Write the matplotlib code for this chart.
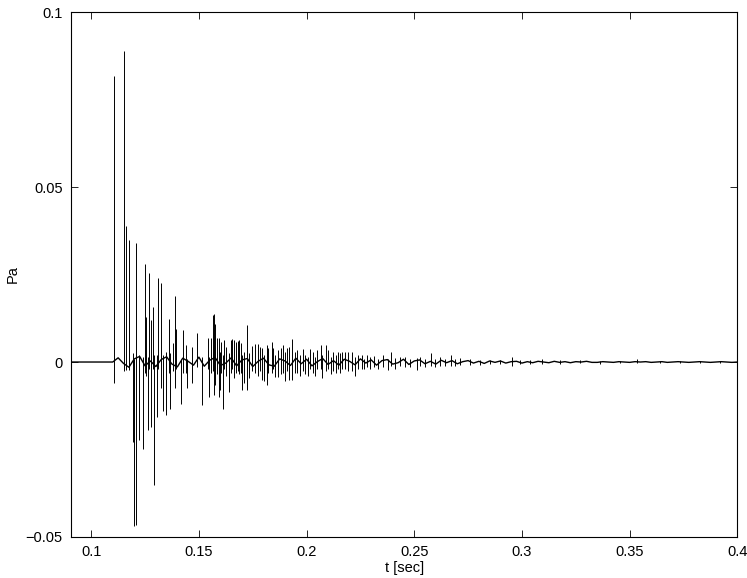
import numpy as np
import matplotlib
matplotlib.use("Agg")
import matplotlib.pyplot as plt

# measured pressure impulse response, read off the reference
# spike events: time [sec], upper extent [Pa], lower extent [Pa]
spike_t = [0.1106, 0.1152, 0.1163, 0.1176, 0.1195, 0.1199, 0.1208, 0.1222, 0.1239, 0.1251,
           0.1256, 0.1262, 0.1267, 0.1276, 0.1288, 0.1293, 0.1304, 0.1309, 0.1324, 0.1334,
           0.1347, 0.1359, 0.1366, 0.1378, 0.1388, 0.1394, 0.1416, 0.1425, 0.1440, 0.1446,
           0.1470, 0.1490, 0.1513, 0.1541, 0.1548, 0.1558, 0.1564, 0.1570, 0.1577, 0.1585,
           0.1592, 0.1598, 0.1603, 0.1613, 0.1618, 0.1627, 0.1640, 0.1648, 0.1655, 0.1665,
           0.1672, 0.1680, 0.1688, 0.1695, 0.1702, 0.1708, 0.1725, 0.1735, 0.1745, 0.1761,
           0.1776, 0.1784, 0.1795, 0.1804, 0.1816, 0.1823, 0.1838, 0.1845, 0.1855, 0.1866,
           0.1880, 0.1892, 0.1900, 0.1908, 0.1920, 0.1931, 0.1946, 0.1955, 0.1968, 0.1982,
           0.1993, 0.2005, 0.2015, 0.2030, 0.2039, 0.2050, 0.2066, 0.2072, 0.2090, 0.2098,
           0.2115, 0.2124, 0.2135, 0.2147, 0.2155, 0.2166, 0.2180, 0.2194, 0.2210, 0.2225,
           0.2240, 0.2256, 0.2265, 0.2280, 0.2295, 0.2311, 0.2334, 0.2357, 0.2379, 0.2392,
           0.2411, 0.2434, 0.2457, 0.2481, 0.2512, 0.2527, 0.2550, 0.2578, 0.2597, 0.2620,
           0.2643, 0.2671, 0.2690, 0.2713, 0.2759, 0.2806, 0.2852, 0.2899, 0.2953, 0.2992,
           0.3038, 0.3092, 0.3177, 0.3270, 0.3363, 0.3456, 0.3535, 0.3642, 0.3735, 0.3828,
           0.3921]
spike_hi = [0.0817, 0.0890, 0.0390, 0.0348, 0.0025, 0.0010, 0.0340, 0.0020, 0.0015, 0.0280,
            0.0130, 0.0015, 0.0255, 0.0120, 0.0158, 0.0020, 0.0020, 0.0240, 0.0225, 0.0020,
            0.0030, 0.0123, 0.0025, 0.0054, 0.0190, 0.0093, 0.0010, 0.0092, 0.0048, 0.0010,
            0.0044, 0.0082, 0.0015, 0.0070, 0.0015, 0.0068, 0.0134, 0.0138, 0.0110, 0.0068,
            0.0068, 0.0030, 0.0056, 0.0020, 0.0062, 0.0043, 0.0025, 0.0063, 0.0065, 0.0062,
            0.0058, 0.0060, 0.0062, 0.0055, 0.0020, 0.0030, 0.0105, 0.0025, 0.0045, 0.0052,
            0.0052, 0.0042, 0.0040, 0.0020, 0.0048, 0.0040, 0.0057, 0.0040, 0.0020, 0.0033,
            0.0040, 0.0048, 0.0030, 0.0040, 0.0042, 0.0067, 0.0030, 0.0035, 0.0020, 0.0038,
            0.0020, 0.0015, 0.0038, 0.0030, 0.0015, 0.0035, 0.0048, 0.0020, 0.0048, 0.0034,
            0.0015, 0.0030, 0.0020, 0.0030, 0.0025, 0.0030, 0.0028, 0.0030, 0.0030, 0.0015,
            0.0020, 0.0019, 0.0010, 0.0019, 0.0015, 0.0018, 0.0010, 0.0020, 0.0010, 0.0029,
            0.0012, 0.0015, 0.0015, 0.0010, 0.0012, 0.0015, 0.0010, 0.0026, 0.0010, 0.0015,
            0.0010, 0.0019, 0.0008, 0.0012, 0.0008, 0.0006, 0.0007, 0.0006, 0.0014, 0.0005,
            0.0006, 0.0010, 0.0005, 0.0005, 0.0004, 0.0004, 0.0010, 0.0004, 0.0003, 0.0004,
            0.0003]
spike_lo = [-0.0059, -0.0025, -0.0022, -0.0022, -0.0228, -0.0468, -0.0465, -0.0223, -0.0250, -0.0030,
            -0.0040, -0.0195, -0.0020, -0.0185, -0.0020, -0.0352, -0.0156, -0.0020, -0.0075, -0.0140,
            -0.0150, -0.0030, -0.0135, -0.0025, -0.0075, -0.0020, -0.0120, -0.0030, -0.0030, -0.0075,
            -0.0060, -0.0015, -0.0123, -0.0020, -0.0100, -0.0030, -0.0025, -0.0095, -0.0067, -0.0035,
            -0.0099, -0.0080, -0.0030, -0.0133, -0.0020, -0.0040, -0.0086, -0.0030, -0.0020, -0.0045,
            -0.0030, -0.0025, -0.0035, -0.0030, -0.0079, -0.0060, -0.0080, -0.0045, -0.0025, -0.0030,
            -0.0040, -0.0025, -0.0050, -0.0055, -0.0067, -0.0030, -0.0030, -0.0020, -0.0042, -0.0042,
            -0.0035, -0.0030, -0.0055, -0.0025, -0.0050, -0.0052, -0.0030, -0.0030, -0.0040, -0.0025,
            -0.0035, -0.0040, -0.0020, -0.0030, -0.0039, -0.0020, -0.0020, -0.0045, -0.0025, -0.0020,
            -0.0035, -0.0025, -0.0030, -0.0020, -0.0030, -0.0020, -0.0020, -0.0025, -0.0025, -0.0039,
            -0.0020, -0.0020, -0.0020, -0.0015, -0.0020, -0.0015, -0.0020, -0.0015, -0.0024, -0.0010,
            -0.0020, -0.0010, -0.0015, -0.0015, -0.0022, -0.0010, -0.0015, -0.0012, -0.0015, -0.0012,
            -0.0012, -0.0010, -0.0010, -0.0008, -0.0008, -0.0008, -0.0006, -0.0006, -0.0012, -0.0006,
            -0.0005, -0.0006, -0.0005, -0.0004, -0.0005, -0.0004, -0.0004, -0.0004, -0.0004, -0.0003,
            -0.0003]

# low-level background signal between the spikes (2.5 ms steps from 0.1125 s)
noise_t0 = [0.0906, 0.1100]
noise_p0 = [0.0, 0.0]
noise_p = [0.0012, -0.0004, -0.0015, 0.0009, 0.0016, -0.0011, 0.0003, -0.0013, 0.0007, 0.0015,
           -0.0006, -0.0014, 0.0011, 0.0002, -0.0009, 0.0014, -0.0012, 0.0005, 0.0013, -0.0010,
           -0.0003, 0.0012, -0.0011, 0.0006, 0.0010, -0.0013, 0.0002, 0.0011, -0.0008, -0.0012,
           0.0009, 0.0003, -0.0010, 0.0011, -0.0005, 0.0008, -0.0011, 0.0001, 0.0010, -0.0007,
           0.0004, -0.0009, 0.0008, 0.0002, -0.0008, 0.0009, -0.0003, 0.0006, -0.0009, 0.0004,
           0.0007, -0.0006, -0.0002, 0.0008, -0.0007, 0.0003, 0.0006, -0.0005, 0.0002, -0.0006,
           0.0005, -0.0002, 0.0004, -0.0005, 0.0001, 0.0004, -0.0003, 0.0002, -0.0004, 0.0003,
           -0.0001, 0.0003, -0.0003, 0.0001, 0.0002, -0.0003, 0.0001, -0.0002, 0.0002, 0.0000,
           -0.0002, 0.0002, -0.0001, 0.0001, -0.0002, 0.0001, 0.0000, 0.0002, -0.0001, -0.0001,
           0.0001, 0.0000, -0.0001, 0.0001, 0.0000, -0.0001, 0.0001, 0.0000, 0.0001, -0.0001,
           0.0000, 0.0001, -0.0001, 0.0000, 0.0001, 0.0000, -0.0001, 0.0000, 0.0001, 0.0000,
           -0.0001, 0.0000, 0.0001, 0.0000, -0.0001, 0.0000]

x_ticks = [0.1, 0.15, 0.2, 0.25, 0.3, 0.35, 0.4]
x_tick_labels = ["0.1", "0.15", "0.2", "0.25", "0.3", "0.35", "0.4"]
y_ticks = [-0.05, 0, 0.05, 0.1]
y_tick_labels = ["\u22120.05", "0", "0.05", "0.1"]

plt.rcParams['font.family'] = ['Liberation Sans', 'DejaVu Sans']
plt.rcParams['font.size'] = 10.5

fig = plt.figure(figsize=(7.47, 5.78), dpi=100)
ax = fig.add_axes([0.095, 0.071, 0.892, 0.908])

noise_t = noise_t0 + list(np.arange(len(noise_p)) * 0.0025 + 0.1125)
ax.plot(noise_t, noise_p0 + noise_p, color='k', lw=1.0)
ax.vlines(spike_t, spike_lo, spike_hi, color='k', lw=0.7)

ax.set_xlim(0.0906, 0.4)
ax.set_ylim(-0.05, 0.1)
ax.set_xticks(x_ticks)
ax.set_xticklabels(x_tick_labels)
ax.set_yticks(y_ticks)
ax.set_yticklabels(y_tick_labels)
ax.tick_params(direction='in', length=5, width=0.6, top=True, right=True, pad=6)
for s in ax.spines.values():
    s.set_linewidth(0.8)

ax.set_xlabel("t [sec]", labelpad=1)
ax.set_ylabel("Pa", va='center')
ax.yaxis.set_label_coords(-0.087, 0.5)

fig.savefig("out.png", dpi=100)
